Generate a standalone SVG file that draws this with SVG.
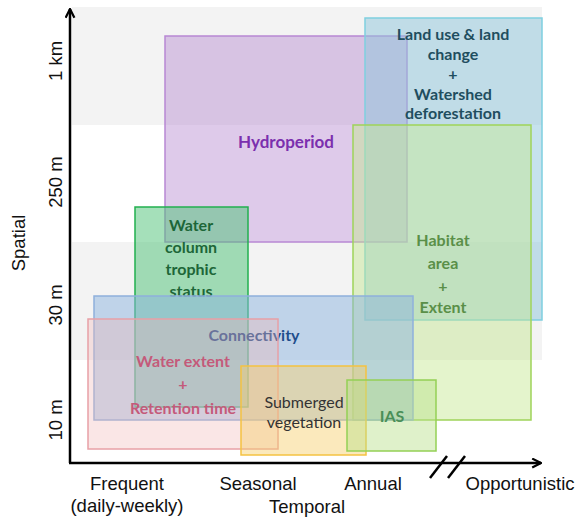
<svg xmlns="http://www.w3.org/2000/svg" width="583" height="517" viewBox="0 0 583 517">
<style>
.ax{font-family:"Liberation Sans",Arial,sans-serif;font-size:18.5px;fill:#111;}
.lb{font-family:Lato,"Open Sans",sans-serif;font-weight:bold;font-size:16px;text-anchor:middle;}
.box{stroke-width:1.5;}
</style>
<defs>
<marker id="ah" viewBox="0 0 10 10" refX="9" refY="5" markerWidth="11" markerHeight="11" markerUnits="userSpaceOnUse" orient="auto">
<path d="M1,1 L9,5 L1,9" fill="none" stroke="#000" stroke-width="2"/>
</marker>
</defs>
<rect width="583" height="517" fill="#fff"/>
<g id="bands">
<rect x="72" y="7" width="470" height="118" fill="#f3f3f3"/>
<rect x="72" y="242" width="470" height="118" fill="#f3f3f3"/>
</g>
<g id="hydroperiod">
<rect class="box" x="165" y="36" width="242" height="206" fill="#b58ad0" fill-opacity="0.45" stroke="#b888d4"/>
<text class="lb" x="286" y="148" fill="#7b2fae" style="font-size:17px">Hydroperiod</text>
</g>
<g id="landuse">
<rect class="box" x="365" y="18" width="177" height="302" fill="#8ec6dc" fill-opacity="0.5" stroke="#7fcfe0"/>
<text class="lb" fill="#1f4e5f"><tspan x="453" y="40">Land use &amp; land</tspan><tspan x="453" y="60">change</tspan><tspan x="453" y="80">+</tspan><tspan x="453" y="100">Watershed</tspan><tspan x="453" y="119">deforestation</tspan></text>
</g>
<g id="habitat">
<rect class="box" x="353" y="125" width="178" height="295" fill="#c3e68e" fill-opacity="0.45" stroke="#9fd35a"/>
<text class="lb" fill="#5a8f48"><tspan x="443" y="246">Habitat</tspan><tspan x="443" y="269">area</tspan><tspan x="443" y="292">+</tspan><tspan x="443" y="313">Extent</tspan></text>
</g>
<g id="watercolumn">
<rect class="box" x="135" y="207" width="113" height="200" fill="#4cc276" fill-opacity="0.5" stroke="#22b04f"/>
<text class="lb" fill="#1d6638"><tspan x="191" y="231">Water</tspan><tspan x="191" y="253">column</tspan><tspan x="191" y="275">trophic</tspan><tspan x="191" y="297">status</tspan></text>
</g>
<g id="connectivity">
<rect class="box" x="94" y="296" width="319" height="124" fill="#8cb4e0" fill-opacity="0.5" stroke="#8fb0dc"/>
<text class="lb" x="254" y="341" fill="#1f4e8c">Connectivity</text>
</g>
<g id="waterextent">
<rect class="box" x="88" y="319" width="190" height="130" fill="#f2b8b8" fill-opacity="0.35" stroke="#e8a0a6"/>
<text class="lb" fill="#c45a7a"><tspan x="183" y="367">Water extent</tspan><tspan x="183" y="390">+</tspan><tspan x="183" y="414">Retention time</tspan></text>
</g>
<g id="submerged">
<rect class="box" x="241" y="366" width="125" height="89" fill="#f7cf6a" fill-opacity="0.45" stroke="#f5c242"/>
<text class="lb" fill="#333" style="font-weight:normal"><tspan x="304" y="408">Submerged</tspan><tspan x="304" y="428">vegetation</tspan></text>
</g>
<g id="ias">
<rect class="box" x="347" y="380" width="89" height="71" fill="#b8e08a" fill-opacity="0.45" stroke="#94d055"/>
<text class="lb" x="392" y="422" fill="#4a8f58">IAS</text>
</g>
<g id="connectors">
<line x1="70" y1="463" x2="70" y2="9" stroke="#000" stroke-width="2.5" marker-end="url(#ah)"/>
<line x1="69" y1="463" x2="541" y2="463" stroke="#000" stroke-width="2.5" marker-end="url(#ah)"/>
<line x1="430" y1="478" x2="447" y2="456" stroke="#000" stroke-width="2.5"/>
<line x1="448" y1="478" x2="465" y2="456" stroke="#000" stroke-width="2.5"/>
</g>
<g id="ylabels" class="ax">
<text transform="translate(62,61) rotate(-90)" text-anchor="middle">1 km</text>
<text transform="translate(62,182) rotate(-90)" text-anchor="middle">250 m</text>
<text transform="translate(62,305) rotate(-90)" text-anchor="middle">30 m</text>
<text transform="translate(62,420) rotate(-90)" text-anchor="middle">10 m</text>
<text transform="translate(25,243) rotate(-90)" text-anchor="middle">Spatial</text>
</g>
<g id="xlabels" class="ax" text-anchor="middle">
<text x="127" y="490">Frequent</text>
<text x="127" y="512">(daily-weekly)</text>
<text x="258" y="490">Seasonal</text>
<text x="373" y="490">Annual</text>
<text x="520" y="490">Opportunistic</text>
<text x="307" y="513">Temporal</text>
</g>
</svg>
